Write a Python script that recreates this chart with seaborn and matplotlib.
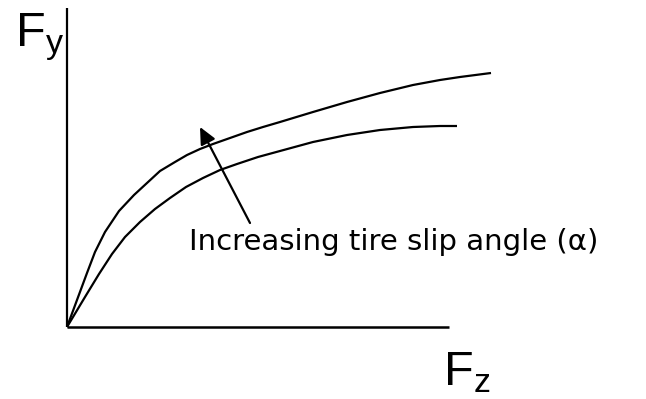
import matplotlib
matplotlib.use("Agg")
import matplotlib.pyplot as plt
import seaborn as sns
import pandas as pd

# Points (pixel-space schematic coordinates: Fz right, Fy down)
upper_x = [67, 77, 87, 95, 105, 119, 134, 147, 160, 175, 187, 200, 213, 230, 247,
           263, 280, 313, 347, 380, 413, 440, 460, 491]
upper_y = [327, 300, 273, 252, 232, 211, 195, 183, 171, 162, 155, 149, 144, 138, 132,
           127, 122, 112, 102, 93, 85, 80, 77, 73]
lower_x = [67, 76, 85, 99, 112, 125, 140, 155, 170, 186, 203, 220, 237, 258, 280,
           313, 347, 380, 413, 440, 457]
lower_y = [327, 312, 297, 274, 254, 237, 222, 209, 198, 187, 178, 170, 164, 157, 151,
           142, 135, 130, 127, 126, 126]
axis_v_x = [67, 67]
axis_v_y = [8, 327]
axis_h_x = [67, 449]
axis_h_y = [327, 327]
arrow_tail = (250, 223)
arrow_tip = (200, 127)
annotation = "Increasing tire slip angle (α)"
y_label = r"F$_\mathregular{y}$"
x_label = r"F$_\mathregular{z}$"

sns.set_theme(style="white")
plt.rcParams["mathtext.default"] = "regular"
fig = plt.figure(figsize=(6.46, 3.99), dpi=100)
ax = fig.add_axes([0, 0, 1, 1])

df = pd.concat([
    pd.DataFrame({"x": upper_x, "y": upper_y, "curve": "upper"}),
    pd.DataFrame({"x": lower_x, "y": lower_y, "curve": "lower"}),
])
for name, g in df.groupby("curve"):
    sns.lineplot(x=g["x"].values, y=g["y"].values, ax=ax, color="black",
                 linewidth=1.6, sort=False, estimator=None,
                 solid_joinstyle="round", solid_capstyle="butt")

ax.plot(axis_v_x, axis_v_y, color="black", linewidth=1.6, solid_capstyle="butt")
ax.plot(axis_h_x, axis_h_y, color="black", linewidth=1.8, solid_capstyle="butt")

ax.annotate("", xy=arrow_tip, xytext=arrow_tail,
            arrowprops=dict(arrowstyle="-|>,head_length=0.85,head_width=0.4",
                            color="black", lw=1.6, shrinkA=0, shrinkB=0))

ax.text(189, 250, annotation, fontsize=21, family="DejaVu Sans",
        ha="left", va="baseline", color="black")

ax.text(15, 46, y_label, fontsize=35, family="Liberation Sans", ha="left",
        va="baseline", color="black")
ax.text(443, 385, x_label, fontsize=35, family="Liberation Sans", ha="left",
        va="baseline", color="black")

ax.set_xlim(0, 646)
ax.set_ylim(399, 0)
ax.axis("off")
fig.savefig("out.png", dpi=100, facecolor="white")
